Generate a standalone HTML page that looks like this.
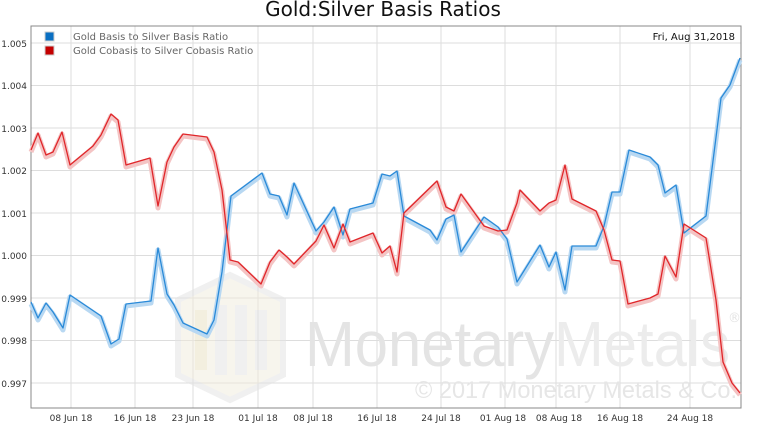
<!DOCTYPE html>
<html><head><meta charset="utf-8"><style>
body{margin:0;background:#fff;}
svg{display:block;font-family:"DejaVu Sans","Liberation Sans",sans-serif;}
</style></head><body>
<svg width="765" height="425" viewBox="0 0 765 425">
<text x="383" y="16" text-anchor="middle" font-size="20" fill="#111">Gold:Silver Basis Ratios</text>
<g stroke="#ddd" stroke-width="1">
<line x1="31" x2="741" y1="43" y2="43"/><line x1="31" x2="741" y1="85.5" y2="85.5"/><line x1="31" x2="741" y1="128" y2="128"/><line x1="31" x2="741" y1="170.5" y2="170.5"/><line x1="31" x2="741" y1="213" y2="213"/><line x1="31" x2="741" y1="255.5" y2="255.5"/><line x1="31" x2="741" y1="298" y2="298"/><line x1="31" x2="741" y1="340.5" y2="340.5"/><line x1="31" x2="741" y1="383" y2="383"/>
<line x1="71" x2="71" y1="26" y2="408"/><line x1="135" x2="135" y1="26" y2="408"/><line x1="193" x2="193" y1="26" y2="408"/><line x1="258" x2="258" y1="26" y2="408"/><line x1="313" x2="313" y1="26" y2="408"/><line x1="377" x2="377" y1="26" y2="408"/><line x1="441" x2="441" y1="26" y2="408"/><line x1="505" x2="505" y1="26" y2="408"/><line x1="556" x2="556" y1="26" y2="408"/><line x1="620" x2="620" y1="26" y2="408"/><line x1="690" x2="690" y1="26" y2="408"/>
</g>
<g opacity="0.5">
<path d="M178,300 L230,275 L283,300 L283,375 L230,400 L178,375 Z" fill="#f1ecdc" stroke="#e3e3e3" stroke-width="6"/>
<rect x="195" y="310" width="12" height="60" fill="#e8e0c0"/><rect x="215" y="305" width="12" height="70" fill="#e3e3e3"/><rect x="235" y="305" width="12" height="70" fill="#e3e3e3"/><rect x="255" y="310" width="12" height="60" fill="#e3e3e3"/>
</g>
<text x="305" y="366" font-size="64" fill="#e4e4e4" font-family="Liberation Sans, sans-serif" textLength="425" lengthAdjust="spacingAndGlyphs">Monetary<tspan fill="#ececec">Metals</tspan></text>
<text x="728" y="322" font-size="13" fill="#e4e4e4">®</text>
<text x="415" y="398" font-size="24" fill="#e6e6e6" font-family="Liberation Sans, sans-serif" textLength="322" lengthAdjust="spacingAndGlyphs">© 2017 Monetary Metals &amp; Co.</text>
<rect x="31" y="26" width="710" height="382" fill="none" stroke="#888" stroke-width="1"/>
<g font-size="9" fill="#333" text-anchor="end">
<text x="27" y="47">1.005</text><text x="27" y="89">1.004</text><text x="27" y="132">1.003</text><text x="27" y="174">1.002</text><text x="27" y="217">1.001</text><text x="27" y="259">1.000</text><text x="27" y="302">0.999</text><text x="27" y="344">0.998</text><text x="27" y="387">0.997</text>
</g>
<g font-size="9" fill="#333" text-anchor="middle">
<text x="71" y="421">08 Jun 18</text><text x="135" y="421">16 Jun 18</text><text x="193" y="421">23 Jun 18</text><text x="258" y="421">01 Jul 18</text><text x="313" y="421">08 Jul 18</text><text x="377" y="421">16 Jul 18</text><text x="441" y="421">24 Jul 18</text><text x="503" y="421">01 Aug 18</text><text x="559" y="421">08 Aug 18</text><text x="620" y="421">16 Aug 18</text><text x="690" y="421">24 Aug 18</text>
</g>
<rect x="45" y="32" width="9" height="9" fill="#0a6fc2" stroke="#ccc"/>
<rect x="45" y="46" width="9" height="9" fill="#c40000" stroke="#ccc"/>
<text x="73" y="40" font-size="10" fill="#666">Gold Basis to Silver Basis Ratio</text>
<text x="73" y="54" font-size="10" fill="#666">Gold Cobasis to Silver Cobasis Ratio</text>
<text x="735" y="40" font-size="10" fill="#111" text-anchor="end">Fri, Aug 31,2018</text>
<g fill="none" stroke-linejoin="round">
<polyline stroke="#b8d8f2" stroke-width="5" transform="translate(0,2)" points="31,302 38,318 46,303 53,312 63,328 70,295 101,316 111,344 119,339 126,304 151,301 158,248 167,294 174,305 183,323 207,334 214,320 222,272 231,196 262,173 270,194 279,196 287,215 294,183 316,231 324,222 334,207 343,235 350,209 373,203 382,174 390,176 397,171 404,216 430,230 437,240 446,219 454,215 461,252 484,217 498,227 507,239 517,282 540,245 549,267 556,252 565,290 572,246 596,246 604,226 612,192 620,192 629,150 650,157 658,165 665,193 676,185 684,233 706,216 721,98 730,85 740,58"/>
<polyline stroke="#f4c4c4" stroke-width="5" transform="translate(0,2)" points="31,150 38,133 46,155 53,152 62,132 70,165 93,146 101,135 111,114 118,120 126,165 150,158 158,206 167,162 174,147 183,134 207,137 214,152 222,190 230,260 238,262 261,284 270,262 279,250 287,257 294,264 316,241 324,225 334,248 343,224 350,242 373,233 382,253 390,246 397,272 404,213 437,181 446,207 454,211 461,194 484,226 498,231 507,230 517,203 520,190 540,211 549,203 556,200 565,165 572,199 596,211 604,230 612,260 620,261 628,304 650,298 658,294 665,256 676,277 684,224 706,238 716,300 723,362 732,383 740,393"/>
<polyline stroke="#2a8ad8" stroke-width="1.3" points="31,302 38,318 46,303 53,312 63,328 70,295 101,316 111,344 119,339 126,304 151,301 158,248 167,294 174,305 183,323 207,334 214,320 222,272 231,196 262,173 270,194 279,196 287,215 294,183 316,231 324,222 334,207 343,235 350,209 373,203 382,174 390,176 397,171 404,216 430,230 437,240 446,219 454,215 461,252 484,217 498,227 507,239 517,282 540,245 549,267 556,252 565,290 572,246 596,246 604,226 612,192 620,192 629,150 650,157 658,165 665,193 676,185 684,233 706,216 721,98 730,85 740,58"/>
<polyline stroke="#e0262a" stroke-width="1.3" points="31,150 38,133 46,155 53,152 62,132 70,165 93,146 101,135 111,114 118,120 126,165 150,158 158,206 167,162 174,147 183,134 207,137 214,152 222,190 230,260 238,262 261,284 270,262 279,250 287,257 294,264 316,241 324,225 334,248 343,224 350,242 373,233 382,253 390,246 397,272 404,213 437,181 446,207 454,211 461,194 484,226 498,231 507,230 517,203 520,190 540,211 549,203 556,200 565,165 572,199 596,211 604,230 612,260 620,261 628,304 650,298 658,294 665,256 676,277 684,224 706,238 716,300 723,362 732,383 740,393"/>
</g>
</svg>
</body></html>
